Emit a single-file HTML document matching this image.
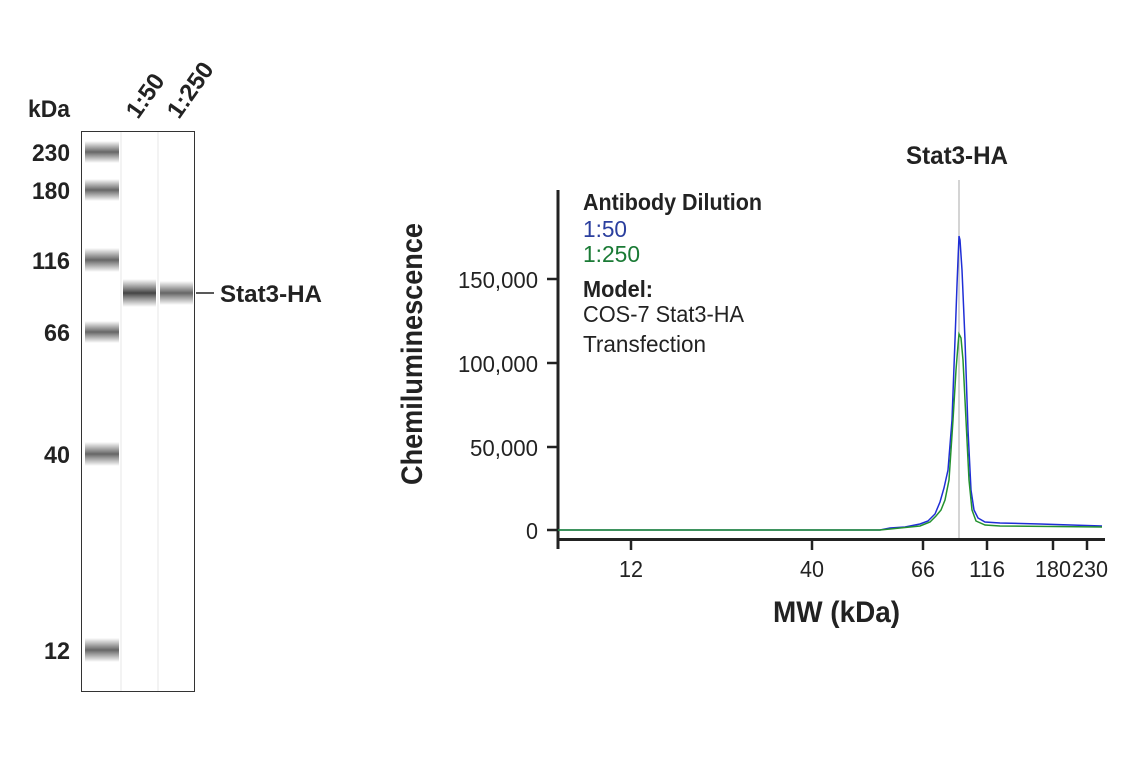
<!DOCTYPE html>
<html><head><meta charset="utf-8"><style>
body{margin:0;background:#fff;}
svg text{font-family:"Liberation Sans",sans-serif;}
</style></head><body>
<svg width="1141" height="768" viewBox="0 0 1141 768" xmlns="http://www.w3.org/2000/svg">
<defs>
<linearGradient id="bd" x1="0" y1="0" x2="0" y2="1">
<stop offset="0" stop-color="#555" stop-opacity="0"/>
<stop offset="0.5" stop-color="#444" stop-opacity="1"/>
<stop offset="1" stop-color="#555" stop-opacity="0"/>
</linearGradient>
<linearGradient id="bl" x1="0" y1="0" x2="0" y2="1">
<stop offset="0" stop-color="#666" stop-opacity="0"/>
<stop offset="0.5" stop-color="#666" stop-opacity="1"/>
<stop offset="1" stop-color="#666" stop-opacity="0"/>
</linearGradient>
</defs>
<rect x="81.5" y="131.5" width="113" height="560" fill="#fff" stroke="#333" stroke-width="1"/>
<rect x="120" y="132" width="2" height="559" fill="#f3f3f3"/>
<rect x="157" y="132" width="2" height="559" fill="#f3f3f3"/>
<g fill="url(#bl)">
<rect x="85" y="141" width="34" height="22"/>
<rect x="85" y="179" width="34" height="22"/>
<rect x="85" y="248" width="34" height="24"/>
<rect x="85" y="321" width="34" height="22"/>
<rect x="85" y="442" width="34" height="24"/>
<rect x="85" y="638" width="34" height="24"/>
</g>
<rect x="123" y="279" width="33" height="28" fill="url(#bd)"/>
<rect x="160" y="281" width="33" height="24" fill="url(#bl)"/>
<g font-size="24" font-weight="bold" fill="#222" text-anchor="end">
<text x="70" y="117" textLength="42" lengthAdjust="spacingAndGlyphs">kDa</text>
<text x="70" y="161" textLength="38" lengthAdjust="spacingAndGlyphs">230</text>
<text x="70" y="199" textLength="38" lengthAdjust="spacingAndGlyphs">180</text>
<text x="70" y="269" textLength="38" lengthAdjust="spacingAndGlyphs">116</text>
<text x="70" y="341" textLength="26" lengthAdjust="spacingAndGlyphs">66</text>
<text x="70" y="463" textLength="26" lengthAdjust="spacingAndGlyphs">40</text>
<text x="70" y="659" textLength="26" lengthAdjust="spacingAndGlyphs">12</text>
</g>
<g font-size="24" font-weight="bold" fill="#222">
<text transform="translate(138,120) rotate(-55)" textLength="48" lengthAdjust="spacingAndGlyphs">1:50</text>
<text transform="translate(179,120) rotate(-55)" textLength="62" lengthAdjust="spacingAndGlyphs">1:250</text>
<text x="220" y="302" textLength="102" lengthAdjust="spacingAndGlyphs">Stat3-HA</text>
</g>
<line x1="196" y1="293" x2="214" y2="293" stroke="#222" stroke-width="1.5"/>
<line x1="959" y1="180" x2="959" y2="539" stroke="#aaa" stroke-width="1"/>
<text x="906" y="164" font-size="25" font-weight="bold" fill="#222" textLength="102" lengthAdjust="spacingAndGlyphs">Stat3-HA</text>
<line x1="558" y1="190" x2="558" y2="549" stroke="#222" stroke-width="3"/>
<line x1="557" y1="539.5" x2="1105" y2="539.5" stroke="#222" stroke-width="3"/>
<g stroke="#222" stroke-width="2.5">
<line x1="547" y1="279" x2="558" y2="279"/>
<line x1="547" y1="363" x2="558" y2="363"/>
<line x1="547" y1="447" x2="558" y2="447"/>
<line x1="547" y1="530" x2="558" y2="530"/>
<line x1="631" y1="539" x2="631" y2="550"/>
<line x1="812" y1="539" x2="812" y2="550"/>
<line x1="923" y1="539" x2="923" y2="550"/>
<line x1="987" y1="539" x2="987" y2="550"/>
<line x1="1053" y1="539" x2="1053" y2="550"/>
<line x1="1087" y1="539" x2="1087" y2="550"/>
</g>
<g font-size="23" fill="#222" text-anchor="end">
<text x="538" y="288" textLength="80" lengthAdjust="spacingAndGlyphs">150,000</text>
<text x="538" y="372" textLength="80" lengthAdjust="spacingAndGlyphs">100,000</text>
<text x="538" y="456" textLength="68" lengthAdjust="spacingAndGlyphs">50,000</text>
<text x="538" y="539" textLength="12" lengthAdjust="spacingAndGlyphs">0</text>
</g>
<g font-size="23" fill="#222" text-anchor="middle">
<text x="631" y="577" textLength="24" lengthAdjust="spacingAndGlyphs">12</text>
<text x="812" y="577" textLength="24" lengthAdjust="spacingAndGlyphs">40</text>
<text x="923" y="577" textLength="24" lengthAdjust="spacingAndGlyphs">66</text>
<text x="987" y="577" textLength="36" lengthAdjust="spacingAndGlyphs">116</text>
<text x="1053" y="577" textLength="36" lengthAdjust="spacingAndGlyphs">180</text>
<text x="1090" y="577" textLength="36" lengthAdjust="spacingAndGlyphs">230</text>
</g>
<text x="773" y="622" font-size="30" font-weight="bold" fill="#222" textLength="127" lengthAdjust="spacingAndGlyphs">MW (kDa)</text>
<text transform="translate(422,485) rotate(-90)" font-size="30" font-weight="bold" fill="#222" textLength="262" lengthAdjust="spacingAndGlyphs">Chemiluminescence</text>
<g font-size="23">
<text x="583" y="210" font-weight="bold" fill="#222" textLength="179" lengthAdjust="spacingAndGlyphs">Antibody Dilution</text>
<text x="583" y="237" fill="#2b3f9e" textLength="44" lengthAdjust="spacingAndGlyphs">1:50</text>
<text x="583" y="262" fill="#1a7a35" textLength="57" lengthAdjust="spacingAndGlyphs">1:250</text>
<text x="583" y="297" font-weight="bold" fill="#222" textLength="70" lengthAdjust="spacingAndGlyphs">Model:</text>
<text x="583" y="322" fill="#222" textLength="161" lengthAdjust="spacingAndGlyphs">COS-7 Stat3-HA</text>
<text x="583" y="352" fill="#222" textLength="123" lengthAdjust="spacingAndGlyphs">Transfection</text>
</g>
<path d="M558,530 L880,530 L890,528 L905,527 L920,524 L928,521 L935,514 L940,502 L944,488 L948,470 L952,420 L955,340 L957,285 L958,260 L959,236 L960,240 L962,270 L965,340 L968,430 L971,490 L974,510 L978,518 L985,522 L1000,523 L1040,524 L1102,526" fill="none" stroke="#1f2ed6" stroke-width="1.5"/>
<path d="M558,530 L880,530 L900,528 L920,526 L930,522 L936,516 L941,510 L945,500 L949,480 L953,420 L956,370 L958,345 L959,334 L961,338 L963,360 L966,420 L969,480 L972,510 L976,521 L985,525 L1000,526 L1102,527" fill="none" stroke="#23922f" stroke-width="1.5"/>
</svg>
</body></html>
